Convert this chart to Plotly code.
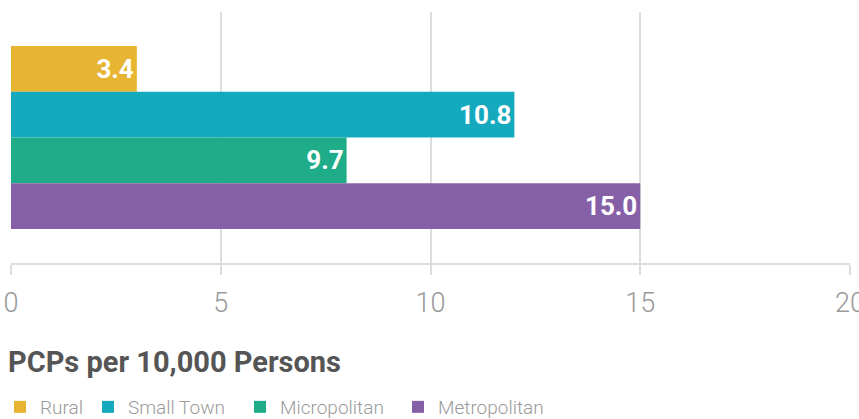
import plotly.graph_objects as go

series = ["Rural", "Small Town", "Micropolitan", "Metropolitan"]
bar_values = [3.0, 12.0, 8.0, 15.0]
bar_labels = ["3.4", "10.8", "9.7", "15.0"]
colors = ["#E8B533", "#15A9BE", "#1FAD89", "#8660A7"]
category = ["PCPs"]
tick_vals = [0, 5, 10, 15, 20]
tick_text = ["0", "5", "10", "15", "20"]
title_text = "PCPs per 10,000 Persons"

W, H = 859, 419
ML, MR, MT, MB = 11, 9, 12, 156
FONT = "Roboto, DejaVu Sans Condensed, sans-serif"

fig = go.Figure()
legend_left_px = [0, 88, 240, 398]
for i, (name, v, lab, c) in enumerate(zip(series, bar_values, bar_labels, colors)):
    lg = "legend" if i == 0 else f"legend{i+1}"
    fig.add_trace(go.Bar(
        y=category, x=[v], name=name, orientation="h",
        marker=dict(color=c, line=dict(width=0)),
        text=[lab], textposition="inside", insidetextanchor="end",
        textfont=dict(family=FONT, size=26, color="white", weight="bold"),
        legend=lg, hoverinfo="skip",
    ))

layout_legends = {}
for i in range(4):
    key = "legend" if i == 0 else f"legend{i+1}"
    layout_legends[key] = dict(
        xref="container", yref="container",
        x=legend_left_px[i] / W, xanchor="left",
        y=1 - 407 / H, yanchor="middle",
        orientation="h", bgcolor="rgba(0,0,0,0)", borderwidth=0,
        font=dict(family=FONT, size=19, color="#9a9a9a", weight=300),
    )

fig.update_layout(
    width=W, height=H,
    margin=dict(l=ML, r=MR, t=MT, b=MB, pad=0, autoexpand=False),
    paper_bgcolor="white", plot_bgcolor="white",
    barmode="group", bargap=0.27, bargroupgap=0,
    title=dict(text=f"<b>{title_text}</b>", xref="container", yref="container",
               x=8 / W, xanchor="left", y=1 - 362 / H, yanchor="middle",
               font=dict(family=FONT, size=29, color="#555555")),
    xaxis=dict(range=[0, 20], tickvals=tick_vals, ticktext=tick_text,
               showgrid=True, gridcolor="#dddddd", gridwidth=2,
               showline=True, linecolor="#dddddd", linewidth=2,
               ticks="outside", ticklen=10, tickwidth=2, tickcolor="#dddddd",
               tickfont=dict(family=FONT, size=27, color="#999999", weight=300),
               ticklabeloverflow="allow", ticklabelstandoff=5,
               zeroline=False, fixedrange=True),
    yaxis=dict(autorange="reversed", showticklabels=False, showgrid=False,
               zeroline=False, fixedrange=True),
    showlegend=True,
    **layout_legends,
)

fig.write_html("out.html", config={"displayModeBar": False},
               post_script="document.body.style.margin='0';document.body.style.overflow='hidden';")
